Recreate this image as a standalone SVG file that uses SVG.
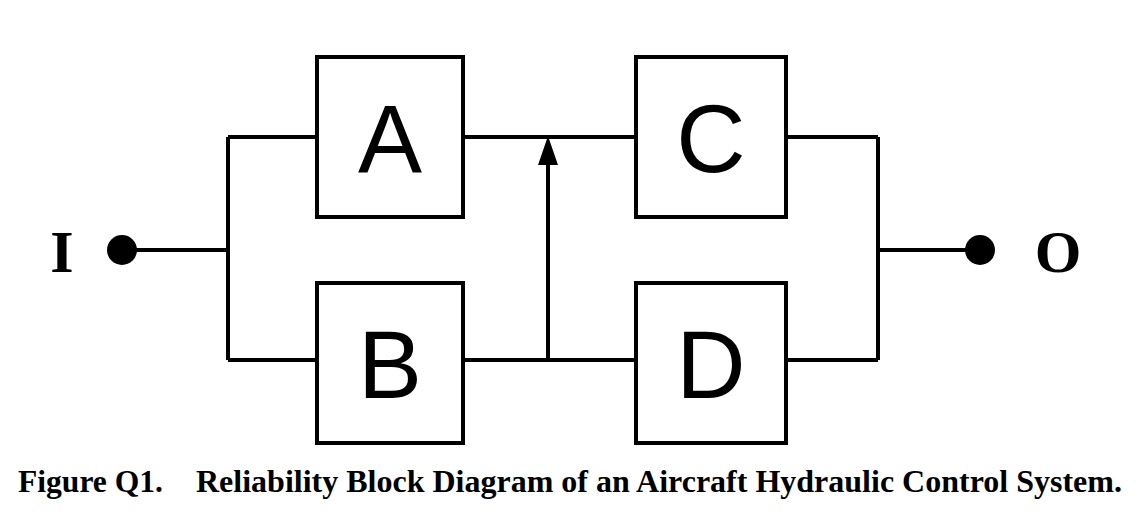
<svg xmlns="http://www.w3.org/2000/svg" width="1146" height="517" viewBox="0 0 1146 517">
<style>
.b{fill:#fff;stroke:#000;stroke-width:4}
.l{fill:none;stroke:#000;stroke-width:4}
.t{font-family:"Liberation Sans",Arial,sans-serif;font-size:96px;text-anchor:middle}
.s{font-family:"Liberation Serif","Times New Roman",serif;font-weight:bold}
</style>
<rect width="1146" height="517" fill="#fff"/>
<g id="connectors">
<path class="l" d="M122 250H228M228 137V360M228 137H317M228 360H317M463 137H636M463 360H636M786 137H878M786 360H878M878 137V360M878 250H980"/>
<path class="l" d="M548 360V160"/>
<polygon points="548,136 538,165 558,165" fill="#000"/>
</g>
<g id="I"><circle cx="122" cy="250" r="15"/><text class="s" x="62" y="272" font-size="60" text-anchor="middle">I</text></g>
<g id="O"><circle cx="980" cy="250" r="15"/><text class="s" x="1058" y="272" font-size="60" text-anchor="middle">O</text></g>
<g id="A"><rect class="b" x="317" y="57" width="146" height="160"/><text class="t" x="390" y="172">A</text></g>
<g id="B"><rect class="b" x="317" y="283" width="146" height="160"/><text class="t" x="390" y="398">B</text></g>
<g id="C"><rect class="b" x="636" y="57" width="150" height="160"/><text class="t" x="711" y="172">C</text></g>
<g id="D"><rect class="b" x="636" y="283" width="150" height="160"/><text class="t" x="711" y="398">D</text></g>
<text class="s" x="18" y="492" font-size="31" textLength="145" lengthAdjust="spacingAndGlyphs">Figure Q1.</text>
<text class="s" x="196" y="492" font-size="31" textLength="926" lengthAdjust="spacingAndGlyphs">Reliability Block Diagram of an Aircraft Hydraulic Control System.</text>
</svg>
